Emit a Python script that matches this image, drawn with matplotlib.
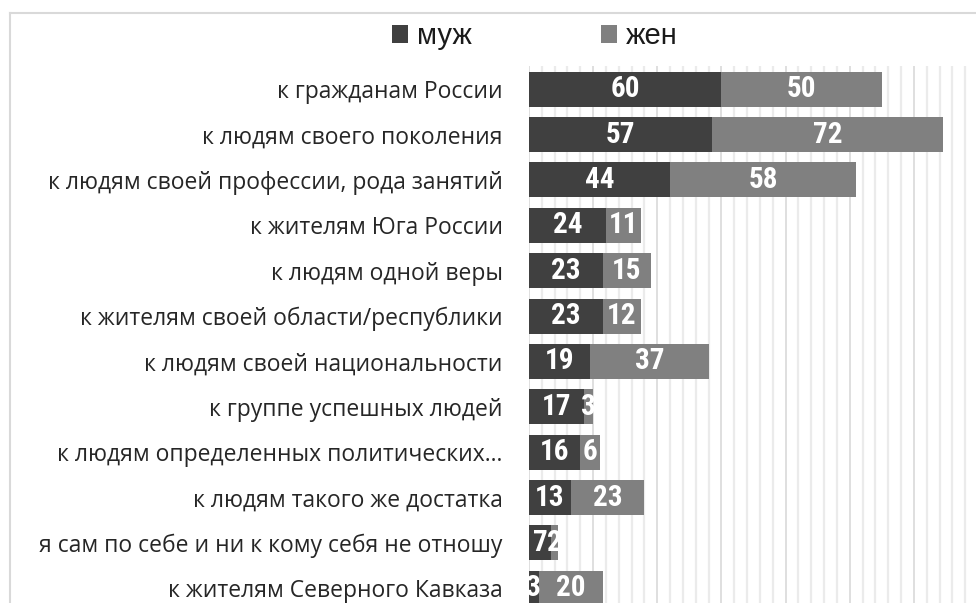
import matplotlib
matplotlib.use("Agg")
import matplotlib.pyplot as plt
from matplotlib import font_manager
from matplotlib.lines import Line2D
from matplotlib.ticker import MultipleLocator

# data, top to bottom
categories = [
    "к гражданам России",
    "к людям своего поколения",
    "к людям своей профессии, рода занятий",
    "к жителям Юга России",
    "к людям одной веры",
    "к жителям своей области/республики",
    "к людям своей национальности",
    "к группе успешных людей",
    "к людям определенных политических…",
    "к людям такого же достатка",
    "я сам по себе и ни к кому себя не отношу",
    "к жителям Северного Кавказа",
]
men = [60, 57, 44, 24, 23, 23, 19, 17, 16, 13, 7, 3]
women = [50, 72, 58, 11, 15, 12, 37, 3, 6, 23, 2, 20]
series_names = ["муж", "жен"]

dark = "#404040"
grey = "#808080"

# pick a narrow font for the value labels if one is installed
installed = {f.name for f in font_manager.fontManager.ttflist}
narrow = next((n for n in ["Liberation Sans Narrow", "Roboto Condensed",
                           "Open Sans Condensed", "DejaVu Sans"] if n in installed), "DejaVu Sans")

fig = plt.figure(figsize=(9.76, 6.03), dpi=100)
# the axes runs past the right and bottom edge, like the cropped original
ax = fig.add_axes([529 / 976, 1 - 611 / 603, 449 / 976, 544.5 / 603])

y = list(range(len(categories)))
b1 = ax.barh(y, men, height=0.77, color=dark, label=series_names[0], zorder=2)
b2 = ax.barh(y, women, left=men, height=0.77, color=grey, label=series_names[1], zorder=2)

lab_font = dict(family=narrow, stretch="condensed", weight="bold",
                fontsize=21, color="white", ha="center", va="center", zorder=3)
for i in y:
    ax.text(men[i] / 2, i, str(men[i]), clip_on=True, **lab_font)
    ax.text(men[i] + women[i] / 2, i, str(women[i]), clip_on=True, **lab_font)

ax.set_xlim(0, 140)
ax.set_ylim(len(categories) - 0.5, -0.5)
ax.xaxis.set_major_locator(MultipleLocator(20))
ax.xaxis.set_minor_locator(MultipleLocator(4))
ax.grid(axis="x", which="minor", color="#ebebeb", linewidth=1.6, zorder=0)
ax.grid(axis="x", which="major", color="#d9d9d9", linewidth=1.2, zorder=0)
ax.set_axisbelow(True)
ax.tick_params(axis="x", which="both", bottom=False, labelbottom=False)
ax.tick_params(axis="y", length=0, pad=19)
ax.set_yticks(y)
ax.set_yticklabels(categories, fontsize=16.5, family="Open Sans", color="#262626")
for s in ax.spines.values():
    s.set_visible(False)

leg = fig.legend(handles=[b1, b2], labels=series_names, loc="center",
                 bbox_to_anchor=(0.548, 0.940), ncol=2, frameon=False,
                 prop={"family": "Liberation Sans", "size": 21},
                 handlelength=0.55, handleheight=0.55, handletextpad=0.31,
                 columnspacing=4.4)
for t in leg.get_texts():
    t.set_color("#1a1a1a")

# chart area border (top and left edges visible)
fig.add_artist(Line2D([10 / 976, 1.0], [1 - 13 / 603, 1 - 13 / 603], color="#d9d9d9", lw=1.5))
fig.add_artist(Line2D([10 / 976, 10 / 976], [0, 1 - 13 / 603], color="#d9d9d9", lw=1.5))

fig.savefig("out.png", dpi=100)
